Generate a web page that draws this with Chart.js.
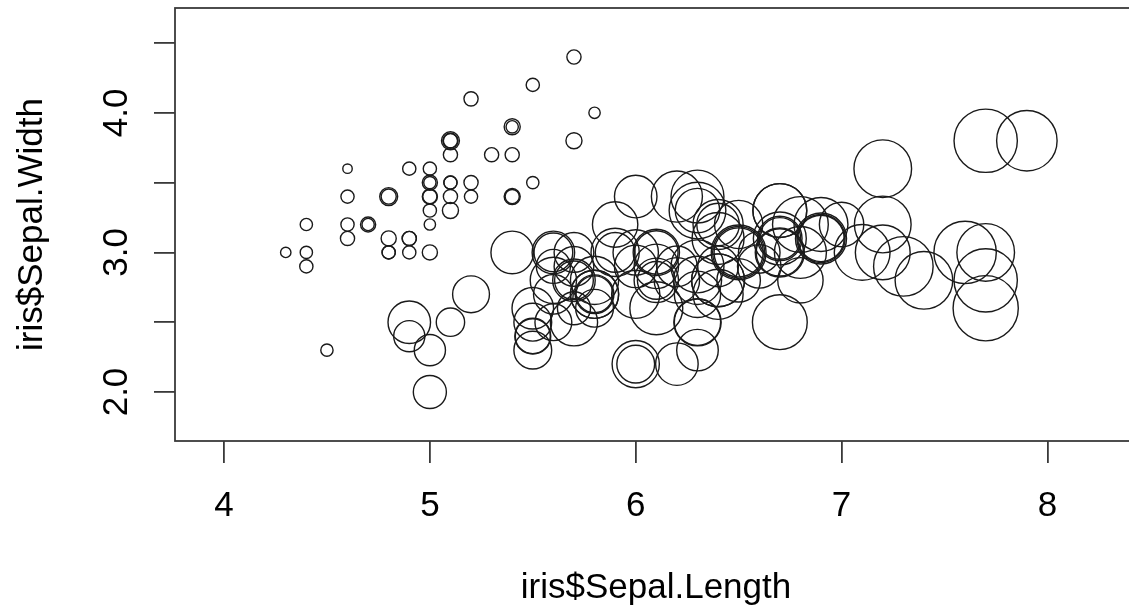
<!DOCTYPE html>
<html>
<head>
<meta charset="utf-8">
<script src="https://cdn.jsdelivr.net/npm/chart.js@4"></script>
<style>
  html, body { margin: 0; padding: 0; background: #fff; overflow: hidden; }
</style>
</head>
<body>
<canvas id="chart" width="1160" height="612"></canvas>
<script>
// iris data: x = Sepal.Length, y = Sepal.Width, circle size = Petal.Length
const sepalLength = [
    5.1, 4.9, 4.7, 4.6, 5.0, 5.4, 4.6, 5.0, 4.4, 4.9, 5.4, 4.8, 4.8, 4.3, 5.8, 5.7, 5.4, 5.1, 5.7, 5.1,
    5.4, 5.1, 4.6, 5.1, 4.8, 5.0, 5.0, 5.2, 5.2, 4.7, 4.8, 5.4, 5.2, 5.5, 4.9, 5.0, 5.5, 4.9, 4.4, 5.1,
    5.0, 4.5, 4.4, 5.0, 5.1, 4.8, 5.1, 4.6, 5.3, 5.0,
    7.0, 6.4, 6.9, 5.5, 6.5, 5.7, 6.3, 4.9, 6.6, 5.2, 5.0, 5.9, 6.0, 6.1, 5.6, 6.7, 5.6, 5.8, 6.2, 5.6,
    5.9, 6.1, 6.3, 6.1, 6.4, 6.6, 6.8, 6.7, 6.0, 5.7, 5.5, 5.5, 5.8, 6.0, 5.4, 6.0, 6.7, 6.3, 5.6, 5.5,
    5.5, 6.1, 5.8, 5.0, 5.6, 5.7, 5.7, 6.2, 5.1, 5.7,
    6.3, 5.8, 7.1, 6.3, 6.5, 7.6, 4.9, 7.3, 6.7, 7.2, 6.5, 6.4, 6.8, 5.7, 5.8, 6.4, 6.5, 7.7, 7.7, 6.0,
    6.9, 5.6, 7.7, 6.3, 6.7, 7.2, 6.2, 6.1, 6.4, 7.2, 7.4, 7.9, 6.4, 6.3, 6.1, 7.7, 6.3, 6.4, 6.0, 6.9,
    6.7, 6.9, 5.8, 6.8, 6.7, 6.7, 6.3, 6.5, 6.2, 5.9
];
const sepalWidth = [
    3.5, 3.0, 3.2, 3.1, 3.6, 3.9, 3.4, 3.4, 2.9, 3.1, 3.7, 3.4, 3.0, 3.0, 4.0, 4.4, 3.9, 3.5, 3.8, 3.8,
    3.4, 3.7, 3.6, 3.3, 3.4, 3.0, 3.4, 3.5, 3.4, 3.2, 3.1, 3.4, 4.1, 4.2, 3.1, 3.2, 3.5, 3.6, 3.0, 3.4,
    3.5, 2.3, 3.2, 3.5, 3.8, 3.0, 3.8, 3.2, 3.7, 3.3,
    3.2, 3.2, 3.1, 2.3, 2.8, 2.8, 3.3, 2.4, 2.9, 2.7, 2.0, 3.0, 2.2, 2.9, 2.9, 3.1, 3.0, 2.7, 2.2, 2.5,
    3.2, 2.8, 2.5, 2.8, 2.9, 3.0, 2.8, 3.0, 2.9, 2.6, 2.4, 2.4, 2.7, 2.7, 3.0, 3.4, 3.1, 2.3, 3.0, 2.5,
    2.6, 3.0, 2.6, 2.3, 2.7, 3.0, 2.9, 2.9, 2.5, 2.8,
    3.3, 2.7, 3.0, 2.9, 3.0, 3.0, 2.5, 2.9, 2.5, 3.6, 3.2, 2.7, 3.0, 2.5, 2.8, 3.2, 3.0, 3.8, 2.6, 2.2,
    3.2, 2.8, 2.8, 2.7, 3.3, 3.2, 2.8, 3.0, 2.8, 3.0, 2.8, 3.8, 2.8, 2.8, 2.6, 3.0, 3.4, 3.1, 3.0, 3.1,
    3.1, 3.1, 2.7, 3.2, 3.3, 3.0, 2.5, 3.0, 3.4, 3.0
];
const petalLength = [
    1.4, 1.4, 1.3, 1.5, 1.4, 1.7, 1.4, 1.5, 1.4, 1.5, 1.5, 1.6, 1.4, 1.1, 1.2, 1.5, 1.3, 1.4, 1.7, 1.5,
    1.7, 1.5, 1.0, 1.7, 1.9, 1.6, 1.6, 1.5, 1.4, 1.6, 1.6, 1.5, 1.5, 1.4, 1.5, 1.2, 1.3, 1.4, 1.3, 1.5,
    1.3, 1.3, 1.3, 1.6, 1.9, 1.4, 1.6, 1.4, 1.5, 1.4,
    4.7, 4.5, 4.9, 4.0, 4.6, 4.5, 4.7, 3.3, 4.6, 3.9, 3.5, 4.2, 4.0, 4.7, 3.6, 4.4, 4.5, 4.1, 4.5, 3.9,
    4.8, 4.0, 4.9, 4.7, 4.3, 4.4, 4.8, 5.0, 4.5, 3.5, 3.8, 3.7, 3.9, 5.1, 4.5, 4.5, 4.7, 4.4, 4.1, 4.0,
    4.4, 4.6, 4.0, 3.3, 4.2, 4.2, 4.2, 4.3, 3.0, 4.1,
    6.0, 5.1, 5.9, 5.6, 5.8, 6.6, 4.5, 6.3, 5.8, 6.1, 5.1, 5.3, 5.5, 5.0, 5.1, 5.3, 5.5, 6.7, 6.9, 5.0,
    5.7, 4.9, 6.7, 4.9, 5.7, 6.0, 4.8, 4.9, 5.6, 5.8, 6.1, 6.4, 5.6, 5.1, 5.6, 6.1, 5.6, 5.5, 4.8, 5.4,
    5.6, 5.1, 5.1, 5.9, 5.7, 5.2, 5.0, 5.2, 5.4, 5.1
];
const xTicks = [4, 5, 6, 7, 8];
const yLabelTicks = [2, 3, 4];
const xTitle = 'iris$Sepal.Length';
const yTitle = 'iris$Sepal.Width';

// biggest circle gets this radius in px (like symbols(..., inches = 1))
const maxRadius = 32.6;
const maxPetal = Math.max(...petalLength);

const points = sepalLength.map(function (x, i) {
    return {x: x, y: sepalWidth[i], r: petalLength[i] / maxPetal * maxRadius};
});

const FONT = '35px "Liberation Sans", Arial, sans-serif';
const LINE = '#3a3a3a';

const rBox = {
    id: 'rBox',
    afterDraw(chart) {
        const ctx = chart.ctx;
        const a = chart.chartArea;
        const xs = chart.scales.x;
        const ys = chart.scales.y;
        ctx.save();
        ctx.strokeStyle = LINE;
        ctx.lineWidth = 1.8;
        ctx.strokeRect(a.left, a.top, a.right - a.left, a.bottom - a.top);

        ctx.fillStyle = '#000';
        ctx.font = FONT;
        ctx.textAlign = 'center';
        ctx.textBaseline = 'alphabetic';
        xTicks.forEach(function (v) {
            ctx.fillText(String(v), xs.getPixelForValue(v), a.bottom + 75);
        });
        yLabelTicks.forEach(function (v) {
            ctx.save();
            ctx.translate(a.left - 48, ys.getPixelForValue(v));
            ctx.rotate(-Math.PI / 2);
            ctx.fillText(v.toFixed(1), 0, 0);
            ctx.restore();
        });
        ctx.fillText(xTitle, (a.left + a.right) / 2, a.bottom + 157);
        ctx.save();
        ctx.translate(42, (a.top + a.bottom) / 2);
        ctx.rotate(-Math.PI / 2);
        ctx.fillText(yTitle, 0, 0);
        ctx.restore();
        ctx.restore();
    }
};

const config = {
    type: 'bubble',
    data: {
        datasets: [{
            data: points,
            backgroundColor: 'rgba(0,0,0,0)',
            borderColor: '#1a1a1a',
            borderWidth: 1.4,
            hoverRadius: 0
        }]
    },
    options: {
        responsive: false,
        animation: false,
        layout: {autoPadding: false, padding: {top: 8, right: 23, left: 0, bottom: 0}},
        plugins: {legend: {display: false}, tooltip: {enabled: false}},
        scales: {
            x: {
                type: 'linear',
                min: 3.762,
                max: 8.435,
                border: {display: false},
                grid: {drawOnChartArea: false, drawTicks: true, tickLength: 22, color: LINE, lineWidth: 1.8},
                ticks: {display: false, stepSize: 1, includeBounds: false},
                afterFit: function (s) { s.height = 171; }
            },
            y: {
                type: 'linear',
                min: 1.649,
                max: 4.751,
                border: {display: false},
                grid: {drawOnChartArea: false, drawTicks: true, tickLength: 21, color: LINE, lineWidth: 1.8},
                ticks: {display: false, stepSize: 0.5, includeBounds: false},
                afterFit: function (s) { s.width = 175; }
            }
        }
    },
    plugins: [rBox]
};

let ctx = document.getElementById('chart').getContext('2d')
new Chart(ctx, config)
</script>
</body>
</html>
